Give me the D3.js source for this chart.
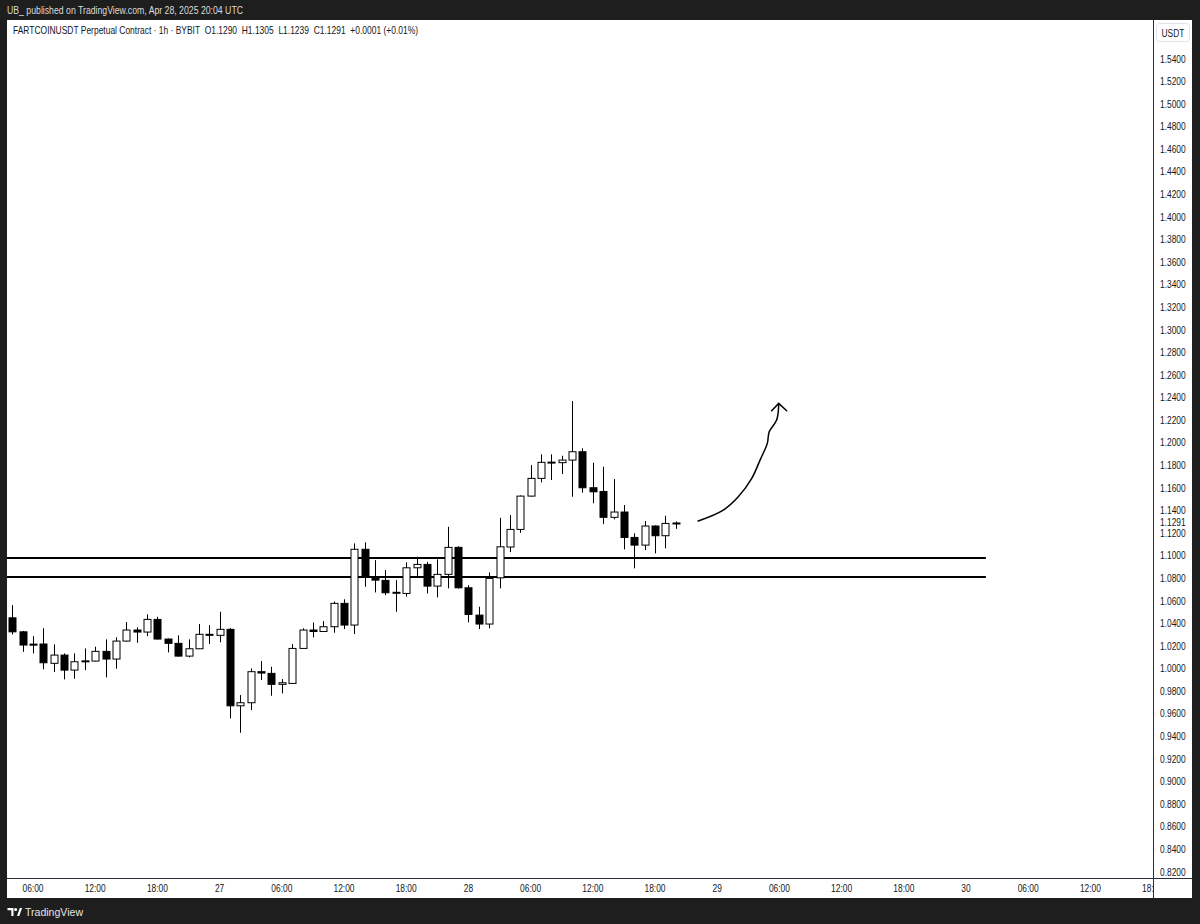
<!DOCTYPE html>
<html><head><meta charset="utf-8">
<script src="https://cdn.jsdelivr.net/npm/d3@7/dist/d3.min.js"></script>
<style>
html,body{margin:0;padding:0;background:#1e1e1e;}
svg{display:block;}
text{font-family:"Liberation Sans",Arial,sans-serif;}
</style></head>
<body>
<svg id="c" width="1200" height="924"></svg>
<script>
// ---------- DATA ----------
const headerText = "UB_ published on TradingView.com, Apr 28, 2025 20:04 UTC";
const legendText = "FARTCOINUSDT Perpetual Contract · 1h · BYBIT  O1.1290  H1.1305  L1.1239  C1.1291  +0.0001 (+0.01%)";
const currency = "USDT";
const lastPrice = 1.1291;

const times = [
 "2025-04-26T04:00Z","2025-04-26T05:00Z","2025-04-26T06:00Z","2025-04-26T07:00Z","2025-04-26T08:00Z","2025-04-26T09:00Z",
 "2025-04-26T10:00Z","2025-04-26T11:00Z","2025-04-26T12:00Z","2025-04-26T13:00Z","2025-04-26T14:00Z","2025-04-26T15:00Z",
 "2025-04-26T16:00Z","2025-04-26T17:00Z","2025-04-26T18:00Z","2025-04-26T19:00Z","2025-04-26T20:00Z","2025-04-26T21:00Z",
 "2025-04-26T22:00Z","2025-04-26T23:00Z","2025-04-27T00:00Z","2025-04-27T01:00Z","2025-04-27T02:00Z","2025-04-27T03:00Z",
 "2025-04-27T04:00Z","2025-04-27T05:00Z","2025-04-27T06:00Z","2025-04-27T07:00Z","2025-04-27T08:00Z","2025-04-27T09:00Z",
 "2025-04-27T10:00Z","2025-04-27T11:00Z","2025-04-27T12:00Z","2025-04-27T13:00Z","2025-04-27T14:00Z","2025-04-27T15:00Z",
 "2025-04-27T16:00Z","2025-04-27T17:00Z","2025-04-27T18:00Z","2025-04-27T19:00Z","2025-04-27T20:00Z","2025-04-27T21:00Z",
 "2025-04-27T22:00Z","2025-04-27T23:00Z","2025-04-28T00:00Z","2025-04-28T01:00Z","2025-04-28T02:00Z","2025-04-28T03:00Z",
 "2025-04-28T04:00Z","2025-04-28T05:00Z","2025-04-28T06:00Z","2025-04-28T07:00Z","2025-04-28T08:00Z","2025-04-28T09:00Z",
 "2025-04-28T10:00Z","2025-04-28T11:00Z","2025-04-28T12:00Z","2025-04-28T13:00Z","2025-04-28T14:00Z","2025-04-28T15:00Z",
 "2025-04-28T16:00Z","2025-04-28T17:00Z","2025-04-28T18:00Z","2025-04-28T19:00Z","2025-04-28T20:00Z"];

const opens = [1.0451,1.0327,1.0218,1.0219,1.0048,1.0121,0.9988,1.0062,1.0068,1.0154,1.0086,1.0245,1.0343,1.0325,1.0437,1.0263,1.0225,1.0112,1.0177,1.0305,
 1.0296,1.0349,0.9672,0.9699,0.9974,0.9959,0.9862,0.9870,1.0180,1.0343,1.0330,1.0372,1.0579,1.0387,1.1058,1.0809,1.0783,1.0673,1.0667,1.0894,
 1.0924,1.0732,1.0836,1.1075,1.0717,1.0475,1.0396,1.0805,1.1078,1.1234,1.1529,1.1686,1.1828,1.1825,1.1848,1.1922,1.1603,1.1570,1.1341,1.1388,
 1.1163,1.1095,1.1264,1.1178,1.1290];
const highs = [1.0564,1.0335,1.0289,1.0358,1.0216,1.0136,1.0136,1.0180,1.0195,1.0260,1.0278,1.0413,1.0367,1.0482,1.0460,1.0268,1.0296,1.0260,1.0396,1.0387,
 1.0505,1.0360,0.9767,1.0003,1.0068,1.0018,0.9909,1.0219,1.0358,1.0410,1.0422,1.0595,1.0615,1.1110,1.1119,1.0962,1.0874,1.0785,1.0942,1.0992,
 1.0947,1.0969,1.1257,1.1085,1.0740,1.0549,1.0853,1.1337,1.1361,1.1535,1.1804,1.1899,1.1899,1.1886,1.2371,1.1952,1.1824,1.1789,1.1680,1.1450,
 1.1199,1.1308,1.1270,1.1355,1.1305];
const lows = [1.0304,1.0150,1.0136,0.9995,0.9971,0.9906,0.9911,0.9988,1.0065,0.9924,1.0000,1.0240,1.0230,1.0289,1.0260,1.0145,1.0108,1.0101,1.0175,1.0219,
 1.0234,0.9560,0.9433,0.9634,0.9900,0.9761,0.9782,0.9865,1.0178,1.0278,1.0325,1.0319,1.0352,1.0307,1.0726,1.0676,1.0652,1.0505,1.0638,1.0809,
 1.0667,1.0632,1.0712,1.0710,1.0411,1.0351,1.0358,1.0712,1.1033,1.1204,1.1525,1.1651,1.1671,1.1724,1.1523,1.1559,1.1465,1.1281,1.1323,1.1057,
 1.0889,1.1051,1.1022,1.1066,1.1239];
const closes = [1.0327,1.0210,1.0214,1.0053,1.0121,0.9988,1.0062,1.0070,1.0154,1.0086,1.0245,1.0343,1.0325,1.0437,1.0263,1.0225,1.0112,1.0177,1.0305,1.0300,
 1.0349,0.9672,0.9699,0.9974,0.9962,0.9862,0.9876,1.0180,1.0343,1.0330,1.0372,1.0579,1.0387,1.1058,1.0809,1.0785,1.0673,1.0677,1.0894,1.0924,
 1.0732,1.0836,1.1075,1.0717,1.0481,1.0396,1.0800,1.1080,1.1234,1.1529,1.1686,1.1828,1.1830,1.1848,1.1922,1.1603,1.1567,1.1341,1.1388,1.1163,
 1.1095,1.1264,1.1178,1.1287,1.1291];

// price axis ticks
const priceTicks = [1.54,1.52,1.50,1.48,1.46,1.44,1.42,1.40,1.38,1.36,1.34,1.32,1.30,1.28,1.26,1.24,1.22,1.20,1.18,1.16,1.14,1.12,1.10,1.08,1.06,1.04,1.02,1.00,0.98,0.96,0.94,0.92,0.90,0.88,0.86,0.84,0.82];

// time axis ticks
const timeTicks = ["2025-04-26T06:00Z","2025-04-26T12:00Z","2025-04-26T18:00Z","2025-04-27T00:00Z","2025-04-27T06:00Z","2025-04-27T12:00Z","2025-04-27T18:00Z",
 "2025-04-28T00:00Z","2025-04-28T06:00Z","2025-04-28T12:00Z","2025-04-28T18:00Z","2025-04-29T00:00Z","2025-04-29T06:00Z","2025-04-29T12:00Z","2025-04-29T18:00Z",
 "2025-04-30T00:00Z","2025-04-30T06:00Z","2025-04-30T12:00Z","2025-04-30T18:00Z"];
const timeTickLabels = ["06:00","12:00","18:00","27","06:00","12:00","18:00","28","06:00","12:00","18:00","29","06:00","12:00","18:00","30","06:00","12:00","18:00"];

// horizontal zone lines (price) and their time extent
const zonePrices = [1.0980, 1.0812];
const zoneStart = "2025-04-26T00:00Z";
const zoneEnd = "2025-04-30T01:55Z";

// hand-drawn arrow (time, price)
const arrowTimes = ["2025-04-28T22:10Z","2025-04-29T00:35Z","2025-04-29T02:02Z","2025-04-29T03:20Z","2025-04-29T04:08Z","2025-04-29T04:50Z","2025-04-29T05:01Z","2025-04-29T05:44Z","2025-04-29T05:56Z"];
const arrowPrices = [1.1308,1.1405,1.1523,1.1686,1.1848,1.1996,1.2099,1.2202,1.2335];
const arrowHeadTimes = ["2025-04-29T05:15Z","2025-04-29T05:56Z","2025-04-29T06:42Z"];
const arrowHeadPrices = [1.2285,1.2350,1.2285];

// ---------- LAYOUT ----------
const svg = d3.select("#c");
const W = 1200, H = 924;
const panel = {x0:7, x1:1192, y0:20, y1:898};
const plot = {x0:7, x1:1153, y0:20, y1:878};
const narrow = 0.84;

const parse = d3.isoParse;
const x = d3.scaleUtc().domain([parse("2025-04-26T06:00Z"), parse("2025-04-30T00:00Z")]).range([33, 966]);
const y = d3.scaleLinear().domain([0.82, 1.54]).range([872, 59]);

function squeeze(sel, f){
  sel.each(function(){
    const L = this.getComputedTextLength();
    this.setAttribute("textLength", L*f);
    this.setAttribute("lengthAdjust","spacingAndGlyphs");
  });
}

// background
svg.append("rect").attr("width",W).attr("height",H).attr("fill","#1e1e1e");
svg.append("rect").attr("x",panel.x0).attr("y",panel.y0).attr("width",panel.x1-panel.x0).attr("height",panel.y1-panel.y0).attr("fill","#ffffff");

// header
svg.append("text").attr("x",7).attr("y",14).attr("fill","#dcdcdc").attr("font-size",11)
  .attr("textLength",236).attr("lengthAdjust","spacingAndGlyphs").text(headerText);

const defs = svg.append("defs");
defs.append("clipPath").attr("id","plotClip").append("rect")
  .attr("x",plot.x0).attr("y",plot.y0).attr("width",plot.x1-plot.x0).attr("height",plot.y1-plot.y0);
defs.append("clipPath").attr("id","timeClip").append("rect")
  .attr("x",plot.x0).attr("y",plot.y1).attr("width",plot.x1-plot.x0).attr("height",panel.y1-plot.y1);

const g = svg.append("g").attr("clip-path","url(#plotClip)");

// zone lines
g.selectAll("line.zone").data(zonePrices).join("line").attr("class","zone")
  .attr("x1",x(parse(zoneStart))).attr("x2",x(parse(zoneEnd)))
  .attr("y1",d=>y(d)).attr("y2",d=>y(d))
  .attr("stroke","#000").attr("stroke-width",2);

// candles
const candles = times.map((t,i)=>({t:parse(t),o:opens[i],h:highs[i],l:lows[i],c:closes[i]}));
const bw = 7;
const cg = g.append("g");
cg.selectAll("line.wick").data(candles).join("line")
  .attr("x1",d=>Math.round(x(d.t))+0.5).attr("x2",d=>Math.round(x(d.t))+0.5)
  .attr("y1",d=>y(d.h)).attr("y2",d=>y(d.l))
  .attr("stroke","#000").attr("stroke-width",1);
cg.selectAll("rect.body").data(candles).join("rect")
  .attr("x",d=>Math.round(x(d.t))-bw/2+0.5)
  .attr("y",d=>y(Math.max(d.o,d.c)))
  .attr("width",bw)
  .attr("height",d=>Math.max(1,Math.abs(y(d.o)-y(d.c))))
  .attr("fill",d=>d.c<d.o?"#000":"#fff")
  .attr("stroke","#000").attr("stroke-width",1);

// arrow
const arrowPts = arrowTimes.map((t,i)=>[x(parse(t)),y(arrowPrices[i])]);
g.append("path").attr("d",d3.line().curve(d3.curveCatmullRom)(arrowPts))
  .attr("fill","none").attr("stroke","#000").attr("stroke-width",1.5).attr("stroke-linecap","round");
const headPts = arrowHeadTimes.map((t,i)=>[x(parse(t)),y(arrowHeadPrices[i])]);
g.append("path").attr("d",d3.line()(headPts))
  .attr("fill","none").attr("stroke","#000").attr("stroke-width",1.5).attr("stroke-linecap","round").attr("stroke-linejoin","miter");

// legend
svg.append("text").attr("x",13).attr("y",34).attr("fill","#131722").attr("font-size",10.5)
  .style("white-space","pre").attr("textLength",405).attr("lengthAdjust","spacingAndGlyphs").text(legendText);

// axis separators
svg.append("line").attr("x1",plot.x1+0.5).attr("x2",plot.x1+0.5).attr("y1",panel.y0).attr("y2",panel.y1).attr("stroke","#2a2e39").attr("stroke-width",1);
svg.append("line").attr("x1",panel.x0).attr("x2",panel.x1).attr("y1",plot.y1+0.5).attr("y2",plot.y1+0.5).attr("stroke","#2a2e39").attr("stroke-width",1);

// price axis labels
const pa = svg.append("g");
pa.selectAll("text.pt").data(priceTicks).join("text").attr("class","pt")
  .attr("x",1160).attr("y",d=>y(d)).attr("dy","0.35em")
  .attr("fill","#131722").attr("font-size",10).text(d=>d3.format(".4f")(d));
pa.append("text").attr("class","pt").attr("x",1160).attr("y",y(lastPrice)).attr("dy","0.35em")
  .attr("fill","#131722").attr("font-size",10).text(d3.format(".4f")(lastPrice));
squeeze(pa.selectAll("text.pt"), narrow);

// currency box
svg.append("rect").attr("x",1156.5).attr("y",23.5).attr("width",33).attr("height",18).attr("rx",3)
  .attr("fill","#fff").attr("stroke","#e0e3eb");
const cur = svg.append("text").attr("x",1173).attr("y",33).attr("dy","0.35em").attr("text-anchor","middle")
  .attr("fill","#131722").attr("font-size",10).text(currency);
squeeze(cur, narrow);

// time axis
const ta = svg.append("g").attr("clip-path","url(#timeClip)");
const tt = ta.selectAll("text.tt").data(timeTicks).join("text").attr("class","tt")
  .attr("x",d=>x(parse(d))).attr("y",888).attr("dy","0.35em").attr("text-anchor","middle")
  .attr("fill","#131722").attr("font-size",10).text((d,i)=>timeTickLabels[i]);
squeeze(tt, narrow);

// footer logo
const logo = svg.append("g").attr("fill","#ffffff");
logo.append("path").attr("d","M7.5 908 h6 v8 h-2.2 v-5.8 h-3.8 z");
logo.append("circle").attr("cx",15.6).attr("cy",909.6).attr("r",1.5);
logo.append("path").attr("d","M17 916 l2.8 -8 h2.3 l-2.8 8 z");
svg.append("text").attr("x",25).attr("y",916).attr("fill","#e6e6e6").attr("font-size",11)
  .attr("textLength",58).attr("lengthAdjust","spacingAndGlyphs").text("TradingView");
</script>
</body></html>
